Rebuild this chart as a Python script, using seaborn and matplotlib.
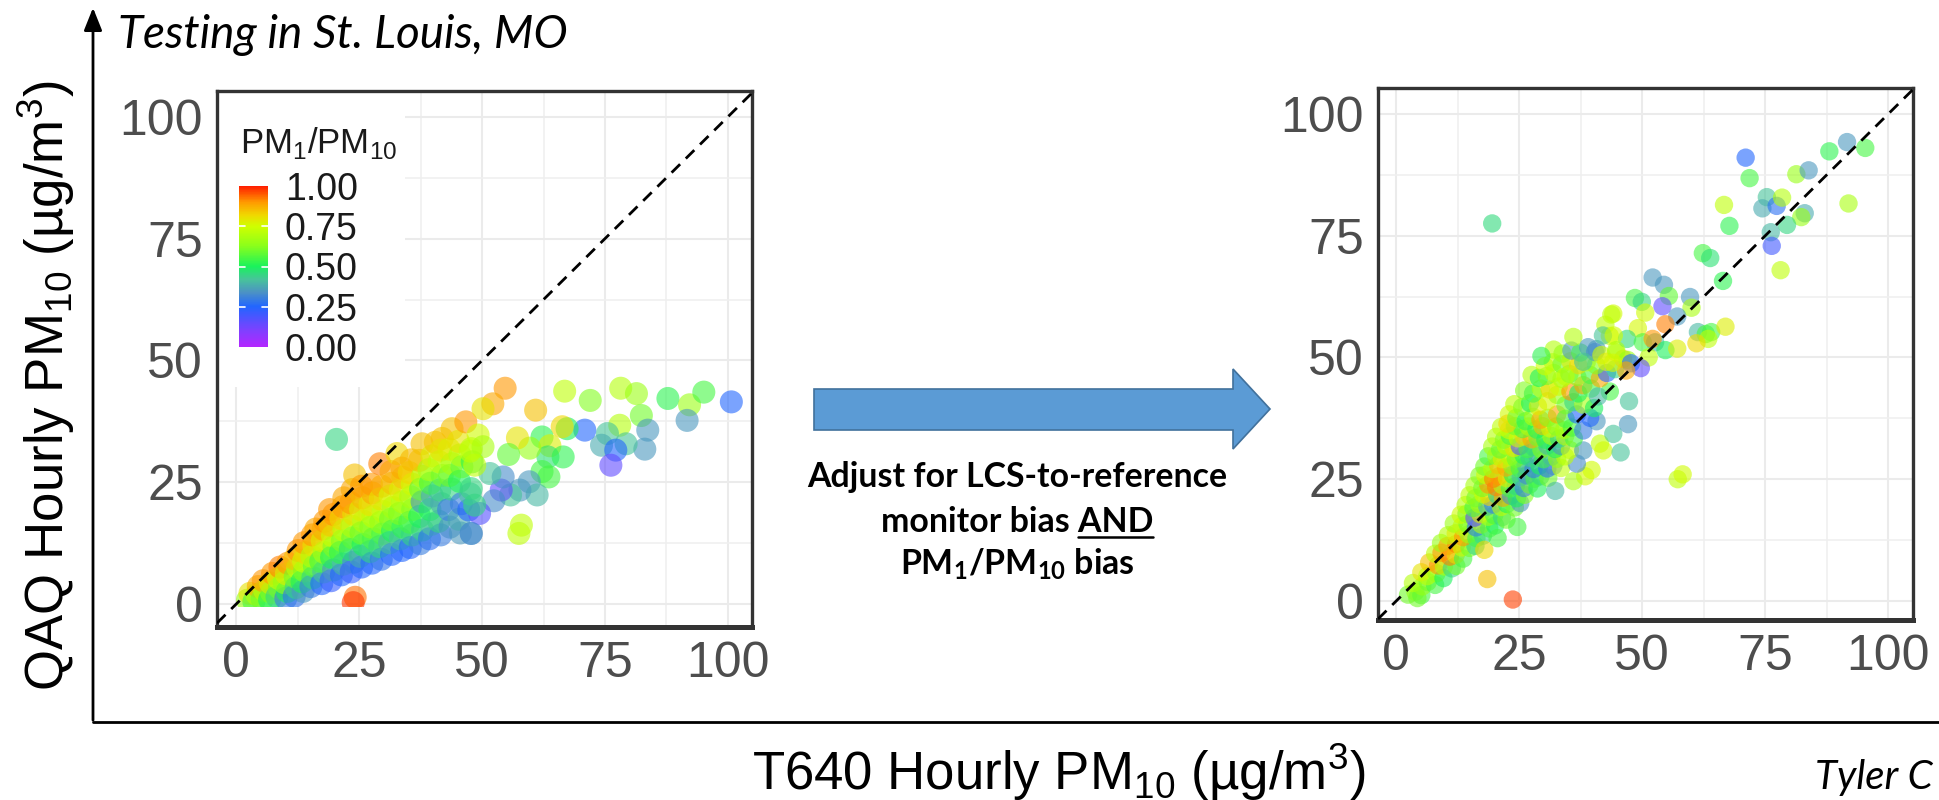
import matplotlib
matplotlib.use("Agg")
import matplotlib.pyplot as plt
import matplotlib.colors as mcolors
from matplotlib.patches import Polygon, Rectangle, FancyArrowPatch
from matplotlib.lines import Line2D
from matplotlib.cm import ScalarMappable
import seaborn as sns
import pandas as pd

# ---------------------------------------------------------------------------
# Raw QAQ vs T640 hourly PM10 (left panel)
# ---------------------------------------------------------------------------
RAW_CLOUD_X = [
    2.3, 2.8,
    3.6, 4.2, 4.5,
    5.3, 5.8, 5.5,
    6.8, 7.2, 7.0, 7.4,
    8.3, 8.8, 8.6, 8.9,
    10.1, 10.4, 9.8, 10.2, 10.5,
    11.8, 12.2, 12.0, 12.5, 11.9, 12.6,
    13.6, 13.4, 13.9, 13.7, 14.0, 13.8,
    15.2, 15.6, 15.9, 15.4, 15.8, 15.5, 16.2,
    17.4, 17.8, 17.2, 17.9, 17.5, 17.7, 18.0,
    19.3, 19.8, 19.4, 19.9, 19.6, 19.2, 19.8, 19.0,
    21.4, 21.8, 21.2, 21.6, 21.9, 21.3, 21.7, 21.9,
    23.4, 23.9, 23.2, 23.7, 23.5, 23.9, 23.3, 23.6, 24.1,
    25.5, 25.2, 25.8, 25.4, 25.9, 25.3, 25.7, 25.5,
    27.6, 27.3, 27.9, 27.4, 27.8, 27.2, 27.7, 27.5,
    29.5, 29.2, 29.8, 29.4, 29.9, 29.3, 29.6, 29.2,
    31.6, 31.2, 31.8, 31.4, 31.9, 31.3, 31.7, 31.5,
    33.7, 33.4, 33.9, 33.2, 33.8, 33.4, 33.9, 32.7, 33.7,
    35.4, 35.8, 35.3, 35.9, 35.5, 35.8, 35.2, 35.6,
    37.4, 37.9, 37.3, 37.8, 37.5, 37.9, 37.3, 37.8,
    39.3, 39.8, 39.4, 39.9, 39.5, 39.2, 39.8, 40.5,
    41.6, 41.2, 41.8, 41.4, 41.9, 41.3, 41.9, 41.6,
    43.5, 43.2, 43.8, 43.4, 43.9, 43.3, 43.9,
    45.6, 45.3, 45.8, 45.4, 45.9, 45.5, 45.2, 46.7,
    47.3, 47.8, 47.6, 48.0, 47.6,
]
RAW_CLOUD_Y = [
    0.8, 2.2,
    0.5, 2.0, 3.6,
    1.0, 2.8, 4.8,
    0.9, 2.4, 4.3, 6.3,
    1.5, 3.3, 5.3, 7.6,
    1.2, 2.6, 4.4, 6.2, 8.4,
    1.6, 3.4, 5.6, 7.5, 9.3, 11.0,
    2.6, 4.6, 6.8, 8.8, 10.6, 12.6,
    3.6, 5.4, 7.8, 9.8, 12.0, 14.2, 15.4,
    4.2, 6.6, 8.8, 10.6, 13.0, 15.4, 17.0,
    4.8, 7.0, 9.6, 11.8, 14.0, 16.2, 18.4, 19.4,
    6.0, 8.2, 10.6, 13.0, 15.2, 17.6, 20.0, 21.8,
    6.6, 8.6, 11.2, 13.6, 16.0, 18.4, 20.8, 23.5, 26.5,
    7.6, 9.8, 12.2, 14.6, 17.0, 19.4, 21.8, 24.2,
    8.4, 10.8, 13.4, 15.8, 18.0, 20.4, 22.8, 24.6,
    9.2, 11.8, 14.4, 16.8, 19.0, 21.6, 24.2, 28.8,
    10.2, 12.6, 15.0, 17.4, 19.8, 22.2, 24.8, 27.2,
    11.0, 13.4, 15.8, 18.6, 21.0, 23.4, 26.0, 30.9, 27.9,
    11.6, 14.2, 16.8, 19.4, 22.0, 24.6, 27.0, 29.6,
    12.4, 15.2, 18.0, 21.0, 23.6, 26.2, 29.5, 32.9,
    13.4, 16.4, 19.4, 22.2, 24.8, 27.6, 30.4, 33.2,
    14.2, 17.0, 20.6, 23.4, 26.4, 29.2, 34.0, 31.6,
    15.8, 19.4, 23.6, 26.4, 28.8, 31.8, 36.0,
    14.6, 17.4, 20.6, 25.2, 28.2, 30.6, 33.4, 37.4,
    19.3, 14.5, 22.6, 29.2, 31.4,
]
RAW_CLOUD_RATIO = [
    0.65, 0.80,
    0.55, 0.70, 0.88,
    0.60, 0.72, 0.90,
    0.50, 0.62, 0.78, 0.90,
    0.45, 0.60, 0.75, 0.92,
    0.30, 0.50, 0.65, 0.78, 0.90,
    0.28, 0.45, 0.60, 0.72, 0.85, 0.90,
    0.35, 0.50, 0.62, 0.74, 0.82, 0.90,
    0.30, 0.45, 0.58, 0.70, 0.80, 0.90, 0.88,
    0.25, 0.42, 0.55, 0.68, 0.78, 0.88, 0.90,
    0.22, 0.35, 0.50, 0.62, 0.74, 0.84, 0.90, 0.90,
    0.25, 0.40, 0.52, 0.62, 0.72, 0.82, 0.90, 0.88,
    0.22, 0.30, 0.48, 0.58, 0.70, 0.80, 0.90, 0.88, 0.85,
    0.25, 0.38, 0.50, 0.60, 0.70, 0.78, 0.86, 0.90,
    0.25, 0.45, 0.55, 0.62, 0.72, 0.80, 0.88, 0.90,
    0.28, 0.45, 0.55, 0.65, 0.72, 0.80, 0.88, 0.92,
    0.25, 0.40, 0.50, 0.60, 0.68, 0.76, 0.85, 0.88,
    0.25, 0.42, 0.52, 0.62, 0.70, 0.78, 0.85, 0.82, 0.88,
    0.25, 0.45, 0.55, 0.62, 0.68, 0.75, 0.82, 0.86,
    0.30, 0.45, 0.50, 0.35, 0.58, 0.70, 0.85, 0.85,
    0.27, 0.42, 0.50, 0.38, 0.55, 0.68, 0.78, 0.85,
    0.30, 0.45, 0.38, 0.45, 0.60, 0.72, 0.85, 0.80,
    0.33, 0.30, 0.45, 0.60, 0.68, 0.78, 0.85,
    0.35, 0.38, 0.30, 0.50, 0.58, 0.70, 0.80, 0.90,
    0.25, 0.33, 0.42, 0.52, 0.72,
]
RAW_SPREAD_X = [
    54.7, 52.2, 50.2, 60.9, 66.8, 72.0, 78.2, 81.4, 87.8, 92.2,
    95.1, 100.7, 91.7, 82.4, 78.0, 83.7, 83.1, 79.3, 75.5, 74.3,
    77.2, 76.2, 70.9, 67.3, 66.3, 62.2, 63.8, 63.4, 66.5, 59.7,
    57.2, 55.4, 63.6, 62.2, 59.6, 61.2, 57.7, 55.8, 53.9, 54.3,
    52.4, 51.6, 58.0, 57.5, 49.5, 47.8, 49.2, 47.8, 50.2, 48.5,
    47.8, 48.5, 20.4, 24.2, 23.8,
]
RAW_SPREAD_Y = [
    44.3, 41.1, 40.1, 39.8, 43.7, 41.8, 44.3, 43.2, 42.2, 40.9,
    43.5, 41.5, 37.7, 38.7, 36.7, 35.7, 31.8, 32.9, 35.0, 32.6,
    31.6, 28.5, 35.7, 36.0, 36.4, 34.3, 32.5, 30.2, 30.2, 32.0,
    34.1, 30.7, 26.1, 27.2, 25.1, 22.4, 23.4, 22.4, 23.4, 26.1,
    21.2, 26.8, 16.2, 14.5, 18.6, 14.5, 34.7, 31.9, 32.3, 28.5,
    23.7, 20.3, 33.8, 1.4, 0.3,
]
RAW_SPREAD_RATIO = [
    0.90, 0.88, 0.80, 0.85, 0.72, 0.62, 0.70, 0.66, 0.52, 0.66,
    0.55, 0.25, 0.35, 0.60, 0.70, 0.35, 0.35, 0.42, 0.42, 0.38,
    0.25, 0.15, 0.25, 0.50, 0.82, 0.52, 0.78, 0.47, 0.52, 0.65,
    0.80, 0.58, 0.55, 0.55, 0.35, 0.40, 0.35, 0.42, 0.15, 0.33,
    0.33, 0.42, 0.72, 0.72, 0.17, 0.33, 0.75, 0.72, 0.68, 0.72,
    0.45, 0.45, 0.45, 0.93, 0.98,
]

# ---------------------------------------------------------------------------
# Adjusted QAQ vs T640 hourly PM10 (right panel)
# ---------------------------------------------------------------------------
ADJ_BAND_X = [
    2.4, 3.9, 5.1, 4.3,
    3.4, 5.3, 6.4, 7.9,
    5.1, 6.3, 8.2, 9.6,
    6.7, 8.5, 9.7, 11.3, 12.2,
    7.9, 9.2, 10.9, 12.1, 13.6,
    9.1, 10.4, 12.2, 13.3, 14.9, 16.1,
    10.5, 12.1, 13.6, 14.7, 16.3, 17.6,
    11.7, 13.3, 14.5, 16.2, 17.3, 18.9, 20.1,
    13.1, 14.3, 15.9, 17.1, 18.7, 19.9, 21.5, 22.4,
    14.1, 15.7, 16.9, 18.5, 19.7, 21.3, 22.5, 24.1, 25.2,
    14.9, 16.1, 17.7, 18.9, 20.5, 21.7, 23.3, 24.5, 26.1,
    15.9, 17.5, 18.7, 20.3, 21.5, 23.1, 24.3, 25.9, 27.1, 28.7,
    16.9, 18.1, 19.7, 20.9, 22.5, 23.7, 25.3, 26.5, 28.1, 29.3, 30.9, 38.4, 36.0, 32.3, 39.7,
    17.9, 19.5, 20.7, 22.3, 23.5, 25.1, 26.3, 27.9, 29.1, 30.7, 31.9, 33.5, 36.7,
    18.7, 20.3, 21.5, 23.1, 24.3, 25.9, 27.1, 28.7, 29.9, 31.5, 32.7, 34.3,
    19.5, 21.1, 22.3, 23.9, 25.1, 26.7, 27.9, 29.5, 30.7, 32.3, 33.5, 35.3, 38.0,
    20.3, 21.9, 23.1, 24.7, 25.9, 27.5, 28.7, 30.3, 31.5, 33.1, 34.3, 36.1, 41.4, 42.1,
    21.3, 22.9, 24.1, 25.7, 26.9, 28.5, 29.7, 31.3, 32.5, 34.1, 35.7, 38.0, 40.7, 44.1,
    22.9, 22.6, 24.4, 26.3, 27.8, 29.3, 30.8, 32.7, 34.4, 36.7, 39.4, 47.1,
    24.0, 25.6, 27.2, 28.8, 30.7, 32.7, 34.4, 36.0, 38.0, 40.2, 47.3,
    26.0, 27.8, 29.4, 31.2, 33.0, 35.4, 37.0, 38.0, 39.6, 43.4, 41.0,
    27.5, 29.0, 30.6, 32.0, 33.6, 35.2, 36.8, 39.4, 41.4, 42.8, 44.5,
    30.2, 31.8, 33.6, 35.4, 37.0, 38.7, 40.6, 46.1,
    32.0, 33.8, 35.6, 37.4, 40.7, 44.7,
    36.0, 43.4, 44.1,
]
ADJ_BAND_Y = [
    1.3, 1.9, 1.2, 0.6,
    3.7, 3.0, 3.9, 3.3,
    5.9, 5.1, 5.7, 4.7,
    7.9, 7.3, 7.1, 6.7, 7.2,
    9.7, 9.9, 9.1, 9.5, 8.7,
    11.9, 11.3, 11.7, 11.0, 10.9, 11.3,
    13.5, 13.9, 13.1, 13.7, 12.9, 13.4,
    15.9, 15.3, 15.8, 15.1, 15.7, 14.9, 15.5,
    17.7, 17.9, 17.1, 17.8, 17.3, 17.6, 17.2, 16.7,
    19.7, 19.1, 19.9, 19.4, 19.8, 19.3, 19.9, 19.2, 20.1,
    21.7, 21.1, 21.9, 21.4, 21.8, 21.2, 21.6, 21.1, 21.8,
    23.7, 23.2, 23.9, 23.4, 23.8, 23.1, 23.6, 23.2, 23.9, 23.1,
    25.7, 25.9, 25.1, 25.6, 25.2, 25.9, 25.4, 25.8, 25.1, 25.6, 25.3, 25.6, 24.6, 22.6, 26.9,
    27.6, 27.1, 27.9, 27.4, 27.8, 27.2, 27.9, 27.1, 27.8, 27.2, 27.7, 27.3, 28.2,
    29.7, 29.8, 29.1, 29.6, 29.2, 29.9, 29.4, 29.8, 29.1, 29.6, 29.2, 29.7,
    31.7, 31.1, 31.9, 31.4, 31.8, 31.2, 31.6, 31.1, 31.9, 31.2, 31.8, 31.0, 30.9,
    33.7, 33.1, 33.9, 33.4, 33.8, 33.2, 33.6, 33.1, 33.9, 33.3, 33.8, 33.4, 32.3, 30.9,
    35.7, 35.1, 35.9, 35.3, 35.8, 35.2, 35.9, 35.4, 35.8, 35.1, 35.6, 35.0, 36.9, 34.3,
    38.3, 36.4, 37.6, 36.9, 37.8, 37.2, 37.6, 38.3, 37.4, 38.3, 37.6, 36.3,
    40.4, 39.8, 40.6, 40.0, 41.0, 42.3, 40.2, 40.8, 40.3, 39.6, 41.0,
    43.2, 42.6, 43.6, 43.4, 44.0, 43.0, 42.6, 44.3, 43.6, 43.0, 42.0,
    46.4, 45.8, 46.2, 46.8, 45.6, 46.6, 46.0, 46.4, 45.7, 46.8, 47.6,
    48.2, 49.0, 48.6, 49.2, 48.4, 49.0, 48.4, 49.7,
    51.6, 50.8, 51.4, 51.0, 51.7, 51.0,
    54.2, 54.4, 59.0,
]
ADJ_BAND_RATIO = [
    0.60, 0.65, 0.55, 0.60,
    0.70, 0.65, 0.60, 0.55,
    0.80, 0.72, 0.65, 0.50,
    0.85, 0.90, 0.70, 0.45, 0.60,
    0.72, 0.90, 0.92, 0.80, 0.55,
    0.65, 0.88, 0.92, 0.75, 0.60, 0.45,
    0.70, 0.78, 0.90, 0.65, 0.55, 0.45,
    0.66, 0.72, 0.60, 0.30, 0.70, 0.55, 0.50,
    0.75, 0.62, 0.15, 0.78, 0.68, 0.55, 0.45, 0.60,
    0.70, 0.55, 0.68, 0.40, 0.30, 0.72, 0.50, 0.60, 0.35,
    0.72, 0.60, 0.75, 0.82, 0.45, 0.88, 0.35, 0.50, 0.62,
    0.68, 0.60, 0.90, 0.92, 0.70, 0.55, 0.45, 0.30, 0.60, 0.50,
    0.62, 0.75, 0.92, 0.90, 0.78, 0.50, 0.42, 0.32, 0.55, 0.45, 0.60, 0.76, 0.68, 0.40, 0.75,
    0.60, 0.70, 0.85, 0.88, 0.62, 0.55, 0.40, 0.30, 0.50, 0.27, 0.33, 0.72, 0.33,
    0.55, 0.65, 0.78, 0.70, 0.60, 0.50, 0.45, 0.38, 0.55, 0.40, 0.65, 0.72,
    0.68, 0.58, 0.72, 0.80, 0.18, 0.55, 0.45, 0.62, 0.40, 0.50, 0.35, 0.72, 0.35,
    0.70, 0.62, 0.55, 0.75, 0.82, 0.88, 0.60, 0.50, 0.68, 0.45, 0.72, 0.55, 0.72, 0.75,
    0.72, 0.75, 0.60, 0.55, 0.70, 0.50, 0.85, 0.76, 0.62, 0.68, 0.55, 0.30, 0.35, 0.42,
    0.75, 0.82, 0.60, 0.52, 0.70, 0.88, 0.62, 0.88, 0.55, 0.25, 0.25, 0.35,
    0.72, 0.62, 0.50, 0.78, 0.76, 0.65, 0.60, 0.45, 0.68, 0.50, 0.42,
    0.62, 0.55, 0.70, 0.82, 0.75, 0.90, 0.50, 0.88, 0.55, 0.55, 0.40,
    0.70, 0.50, 0.60, 0.72, 0.68, 0.55, 0.62, 0.55, 0.88, 0.25, 0.45,
    0.75, 0.70, 0.60, 0.78, 0.82, 0.72, 0.62, 0.85,
    0.70, 0.65, 0.35, 0.55, 0.35, 0.75,
    0.70, 0.76, 0.75,
]
ADJ_SPREAD_X = [
    71.0, 71.8, 66.6, 67.7, 75.3, 74.4, 77.3, 78.4, 81.3, 83.8,
    88.0, 91.6, 95.3, 91.9, 83.0, 82.3, 79.4, 76.1, 76.3, 78.1,
    62.3, 63.8, 66.4, 52.1, 54.4, 55.4, 48.5, 49.9, 50.6, 54.1,
    59.7, 60.0, 57.1, 54.7, 43.7, 42.5, 49.1, 46.9, 42.0, 44.2,
    50.1, 52.6, 52.1, 54.7, 57.1, 61.3, 62.9, 64.0, 63.4, 61.0,
    66.9, 51.3, 39.0, 40.4, 38.0, 41.7, 42.7, 44.7, 47.0, 49.7,
    47.7, 46.7, 44.0, 34.4,
    17.9, 24.6, 20.6, 45.6, 57.2, 58.2, 18.5, 23.7, 29.5, 19.5,
]
ADJ_SPREAD_Y = [
    91.0, 86.8, 81.3, 77.0, 82.9, 80.6, 81.1, 82.8, 87.6, 88.4,
    92.3, 94.2, 93.0, 81.6, 79.6, 78.8, 77.2, 75.7, 72.9, 67.9,
    71.4, 70.4, 65.7, 66.4, 64.9, 62.6, 62.2, 61.4, 59.2, 60.5,
    62.4, 60.2, 58.4, 56.8, 58.8, 56.7, 56.0, 53.8, 54.5, 54.5,
    53.1, 53.1, 53.8, 51.5, 51.8, 55.2, 54.8, 55.2, 53.8, 52.9,
    56.3, 50.0, 52.1, 51.1, 49.1, 50.5, 49.1, 51.5, 49.5, 47.8,
    48.8, 47.3, 48.9, 46.1,
    10.5, 15.2, 12.9, 30.5, 25.0, 26.0, 4.5, 0.3, 50.3, 77.5,
]
ADJ_SPREAD_RATIO = [
    0.25, 0.55, 0.72, 0.52, 0.42, 0.38, 0.27, 0.70, 0.65, 0.35,
    0.52, 0.35, 0.55, 0.68, 0.38, 0.65, 0.45, 0.40, 0.20, 0.72,
    0.55, 0.47, 0.52, 0.35, 0.35, 0.58, 0.55, 0.45, 0.75, 0.15,
    0.35, 0.68, 0.35, 0.92, 0.72, 0.72, 0.76, 0.46, 0.42, 0.75,
    0.55, 0.40, 0.90, 0.50, 0.78, 0.40, 0.55, 0.55, 0.72, 0.82,
    0.78, 0.72, 0.35, 0.33, 0.42, 0.75, 0.78, 0.68, 0.65, 0.15,
    0.25, 0.88, 0.76, 0.72,
    0.82, 0.55, 0.55, 0.42, 0.72, 0.75, 0.85, 0.97, 0.52, 0.46,
]

AXIS_TICKS = [0, 25, 50, 75, 100]
RATIO_TICKS = [0.00, 0.25, 0.50, 0.75, 1.00]
RATIO_LABELS = ["0.00", "0.25", "0.50", "0.75", "1.00"]

raw = pd.DataFrame({
    "t640": RAW_CLOUD_X + RAW_SPREAD_X,
    "qaq": RAW_CLOUD_Y + RAW_SPREAD_Y,
    "ratio": RAW_CLOUD_RATIO + RAW_SPREAD_RATIO,
})
adj = pd.DataFrame({
    "t640": ADJ_BAND_X + ADJ_SPREAD_X,
    "qaq": ADJ_BAND_Y + ADJ_SPREAD_Y,
    "ratio": ADJ_BAND_RATIO + ADJ_SPREAD_RATIO,
})

# ---------------------------------------------------------------------------
# Styling
# ---------------------------------------------------------------------------
sns.set_style("white")
plt.rcParams["font.family"] = ["Liberation Sans", "DejaVu Sans"]

ratio_cmap = mcolors.LinearSegmentedColormap.from_list("pm_ratio", [
    (0.00, "#B326FF"), (0.10, "#8040FF"), (0.25, "#2266FF"),
    (0.34, "#4C92C4"), (0.42, "#47C49A"), (0.50, "#19F25C"),
    (0.63, "#8CFF1A"), (0.75, "#CFFF00"), (0.82, "#F0D800"),
    (0.90, "#FF9A00"), (1.00, "#FF1E00"),
])
ratio_norm = mcolors.Normalize(0, 1)

W, H = 1939, 800
fig = plt.figure(figsize=(W / 100, H / 100), dpi=100)


def box(x0, y0, x1, y1):
    """Pixel box measured from the top-left corner -> figure-fraction rect."""
    return [x0 / W, 1 - y1 / H, (x1 - x0) / W, (y1 - y0) / H]


def fx(x):
    return x / W


def fy(y):
    return 1 - y / H


ax_raw = fig.add_axes(box(217, 91, 752, 627))
ax_adj = fig.add_axes(box(1378, 88, 1913, 620))


def style_panel(ax, xlim, ylim):
    ax.set_xlim(*xlim)
    ax.set_ylim(*ylim)
    ax.set_xticks(AXIS_TICKS)
    ax.set_yticks(AXIS_TICKS)
    ax.set_xticks([12.5, 37.5, 62.5, 87.5], minor=True)
    ax.set_yticks([12.5, 37.5, 62.5, 87.5], minor=True)
    ax.set_xticklabels([str(t) for t in AXIS_TICKS])
    ax.set_yticklabels([str(t) for t in AXIS_TICKS])
    ax.grid(which="major", color="#EBEBEB", lw=1.5)
    ax.grid(which="minor", color="#EFEFEF", lw=1.1)
    ax.set_axisbelow(True)
    ax.tick_params(which="major", length=5, width=1.3, color="#333333",
                   labelsize=36, labelcolor="#4D4D4D", pad=5)
    ax.tick_params(which="minor", length=0)
    for sp in ax.spines.values():
        sp.set_color("#333333")
        sp.set_linewidth(2.4)
    ax.spines["bottom"].set_linewidth(3.6)
    ax.set_xlabel("")
    ax.set_ylabel("")
    ax.axline((0, 0), (1, 1), color="black", lw=2.0,
              ls=(0, (4.3, 2.9)), zorder=5)


# left panel: raw sensor output
sns.scatterplot(data=raw, x="t640", y="qaq", hue="ratio", palette=ratio_cmap,
                hue_norm=(0, 1), s=275, alpha=0.6, linewidth=0,
                legend=False, ax=ax_raw)
ax_raw.collections[-1].set_clip_path(
    Rectangle((-4, -0.5), 112, 112, transform=ax_raw.transData))
style_panel(ax_raw, (-3.9, 104.9), (-4.7, 105.3))

# white legend area in the upper-left corner of the left panel
ax_raw.add_patch(Rectangle((0, 0.448), 0.351, 0.552, transform=ax_raw.transAxes,
                           facecolor="white", edgecolor="none", zorder=1.5))

# right panel: bias-adjusted output
sns.scatterplot(data=adj, x="t640", y="qaq", hue="ratio", palette=ratio_cmap,
                hue_norm=(0, 1), s=175, alpha=0.6, linewidth=0,
                legend=False, ax=ax_adj)
style_panel(ax_adj, (-3.7, 105.0), (-3.9, 105.3))

# colour bar legend
cax = fig.add_axes(box(239, 186, 268, 347))
cb = fig.colorbar(ScalarMappable(norm=ratio_norm, cmap=ratio_cmap), cax=cax,
                  ticks=RATIO_TICKS)
cb.outline.set_visible(False)
cb.ax.set_yticklabels(RATIO_LABELS)
cb.ax.tick_params(length=0, labelsize=27, pad=12, labelcolor="#1A1A1A")
for t in RATIO_TICKS[1:-1]:
    cax.plot([0.0, 0.2], [t, t], color="white", lw=1.2, transform=cax.get_yaxis_transform())
    cax.plot([0.8, 1.0], [t, t], color="white", lw=1.2, transform=cax.get_yaxis_transform())
fig.text(fx(240), fy(143), r"PM$_{\mathregular{1}}$/PM$_{\mathregular{10}}$",
         ha="left", va="center", fontsize=25, color="#1A1A1A")

# ---------------------------------------------------------------------------
# Slide annotations
# ---------------------------------------------------------------------------
fig.add_artist(Line2D([fx(93), 1.0], [fy(722), fy(722)], color="black", lw=2.0,
                      transform=fig.transFigure))
fig.add_artist(FancyArrowPatch((fx(93), fy(723)), (fx(93), fy(5)),
                               transform=fig.transFigure,
                               arrowstyle="-|>,head_length=0.55,head_width=0.22",
                               mutation_scale=25, lw=2.0, color="black"))

fig.text(fx(118), fy(48), "Testing in St. Louis, MO", family="Lato",
         style="italic", fontsize=33, ha="left", va="baseline", color="black")

fig.text(fx(46), fy(386), r"QAQ Hourly PM$_{\mathregular{10}}$ (µg/m$^{\mathregular{3}}$)",
         rotation=90, ha="center", va="center", fontsize=38, color="black")
fig.text(fx(1059), fy(790), r"T640 Hourly PM$_{\mathregular{10}}$ (µg/m$^{\mathregular{3}}$)",
         ha="center", va="baseline", fontsize=38, color="black")

fig.text(fx(1815), fy(789), "Tyler C", family="Lato", style="italic",
         fontsize=29, ha="left", va="baseline", color="black")

# blue block arrow between the panels
arrow_pts = [(814, 389), (1233, 389), (1233, 369), (1270, 409),
             (1233, 449), (1233, 430), (814, 430)]
fig.add_artist(Polygon([(fx(x), fy(y)) for x, y in arrow_pts], closed=True,
                       facecolor="#5B9BD5", edgecolor="#41719C", lw=1.2,
                       transform=fig.transFigure))

bold = dict(family="Lato", weight="bold", fontsize=24.4, color="black",
            ha="center", va="baseline")
cx = fx(1017)
fig.text(cx, fy(487), "Adjust for LCS-to-reference", **bold)
line2 = fig.text(cx, fy(532), "monitor bias AND", **bold)
fig.text(cx, fy(574), r"PM$_{\mathregular{1}}$/PM$_{\mathregular{10}}$ bias", **bold)

# underline the word "AND"
fig.canvas.draw()
renderer = fig.canvas.get_renderer()
bb = line2.get_window_extent(renderer)
probe = fig.text(0, 0, "AND", **bold)
w_and = probe.get_window_extent(renderer).width
probe.remove()
fig.add_artist(Line2D([(bb.x1 - w_and) / W, bb.x1 / W], [fy(537), fy(537)],
                      color="black", lw=1.8, transform=fig.transFigure))

fig.savefig("out.png", dpi=100)
